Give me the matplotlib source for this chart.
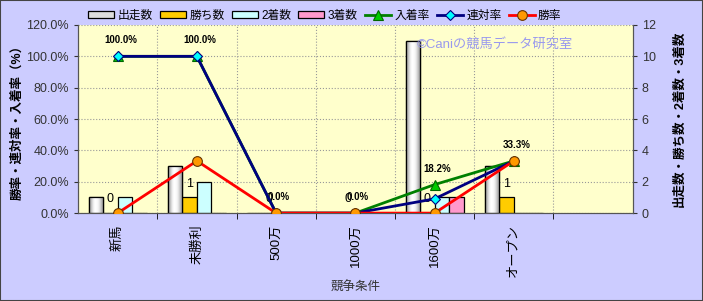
import matplotlib
matplotlib.use('Agg')
import matplotlib.pyplot as plt
import numpy as np
from matplotlib.patches import Rectangle
from matplotlib.ticker import FuncFormatter, MultipleLocator

plt.rcParams['font.family'] = ['Liberation Sans', 'Noto Sans CJK JP', 'DejaVu Sans']

categories = ['新馬', '未勝利', '500万', '1000万', '1600万', 'オープン', '']
starts = [1, 3, 0, 0, 11, 3, None]
wins = [0, 1, 0, 0, 0, 1, None]
seconds = [1, 2, 0, 0, 1, 0, None]
thirds = [0, 0, 0, 0, 1, 0, None]
win_rate = [0.0, 33.3, 0.0, 0.0, 0.0, 33.3]
rentai_rate = [100.0, 100.0, 0.0, 0.0, 9.1, 33.3]
place_rate = [100.0, 100.0, 0.0, 0.0, 18.2, 33.3]

bg = '#CCCCFF'
plot_bg = '#FFFFCC'

fig = plt.figure(figsize=(7.03, 3.01), dpi=100, facecolor=bg)
fig.patches.append(Rectangle((0, 0), 1, 1, transform=fig.transFigure,
                             fill=False, edgecolor='#444444', linewidth=1.5))
ax = fig.add_axes([0.111, 0.292, 0.789, 0.625])
ax.set_facecolor(plot_bg)
ax2 = ax.twinx()

x = np.arange(len(categories))
w = 0.183
bar_series = [(starts, '#DDDDDD', '出走数'), (wins, '#FFCC00', '勝ち数'),
              (seconds, '#CCFFFF', '2着数'), (thirds, '#FF99CC', '3着数')]
handles = []
for k, (vals, col, name) in enumerate(bar_series):
    v = np.array([np.nan if a is None else a for a in vals], dtype=float)
    bars = ax.bar(x + (k - 1.5) * w, v, w, color=col, edgecolor='black',
                  linewidth=0.9, label=name, zorder=2)
    handles.append(bars)
    if k == 0:
        # cylinder-ish shading for the start-count bars
        grad = np.array([[0.62, 0.85, 1.0, 1.0, 0.95, 0.8, 0.6]])
        for b in bars:
            h = b.get_height()
            if not h or np.isnan(h):
                continue
            im = ax.imshow(grad, cmap='gray', vmin=0, vmax=1, aspect='auto',
                           interpolation='bicubic',
                           extent=[b.get_x(), b.get_x() + b.get_width(), 0, h],
                           zorder=2.1)
            im.set_clip_path(b)
            ax.add_patch(Rectangle((b.get_x(), 0), b.get_width(), h, fill=False,
                                   edgecolor='black', linewidth=0.9, zorder=2.2))
    if k == 1:
        for xi, vi in zip(x + (k - 1.5) * w, vals):
            if vi is None:
                continue
            ax.annotate(str(vi), (xi, vi), xytext=(0, 10), textcoords='offset points',
                        ha='center', va='center', fontsize=9, zorder=5)

xl = x[:len(win_rate)]
line_specs = [(place_rate, '#008000', '^', '#00CC00', '#006600', 7, '入着率'),
              (rentai_rate, '#000080', 'D', '#00FFFF', '#000080', 5, '連対率'),
              (win_rate, '#FF0000', 'o', '#FF9900', '#663300', 7, '勝率')]
for vals, col, mk, fc, ec, ms, name in line_specs:
    ln, = ax2.plot(xl, vals, color=col, linewidth=2, marker=mk, markersize=ms,
                   markerfacecolor=fc, markeredgecolor=ec, markeredgewidth=0.8,
                   label=name, zorder=4)
    handles.append(ln)
for xi, vi in zip(xl, place_rate):
    ax2.annotate(f'{vi:.1f}%', (xi, vi), xytext=(2, 11.5), textcoords='offset points',
                 ha='center', va='center', fontsize=7, fontweight='bold')

ax.set_xlim(-0.5, len(categories) - 0.5)
ax.set_ylim(0, 12)
ax2.set_ylim(0, 120)
ax.yaxis.set_major_locator(MultipleLocator(2))
ax2.yaxis.set_major_locator(MultipleLocator(20))
ax2.yaxis.set_major_formatter(FuncFormatter(lambda v, p: f'{v:.1f}%'))

# counts on the right, rates on the left
ax.yaxis.tick_right()
ax.yaxis.set_label_position('right')
ax2.yaxis.tick_left()
ax2.yaxis.set_label_position('left')

ax.set_xticks(x)
ax.set_xticklabels(categories, rotation=90, fontsize=9.5)
ax.set_xticks(x[:-1] + 0.5, minor=True)
ax.tick_params(axis='x', which='major', length=0, pad=8)
ax.tick_params(axis='x', which='minor', length=4)
ax.grid(True, which='minor', axis='x', color='#999999', linestyle=':', linewidth=0.8)
ax.grid(True, which='major', axis='y', color='#999999', linestyle=':', linewidth=0.8)
ax.set_axisbelow(True)
ax.tick_params(axis='y', labelsize=9, colors='#333333', length=3)
ax2.tick_params(axis='y', labelsize=9, colors='#333333', length=3)
for a in (ax, ax2):
    for s in a.spines.values():
        s.set_color('#555555')
    a.spines['top'].set_visible(False)

ax.set_xlabel('競争条件', fontsize=9, color='#333333', labelpad=3)
ax.set_ylabel('出走数・勝ち数・2着数・3着数', fontsize=9, fontweight='bold',
              rotation=90, labelpad=13)
ax2.set_ylabel('勝率・連対率・入着率（%）', fontsize=9, fontweight='bold', labelpad=2)

fig.text(0.593, 0.853, '©Caniの競馬データ研究室', fontsize=9.5, color='#9999EE',
         ha='left', va='center')

fig.legend(handles=handles, labels=[h.get_label() for h in handles], ncol=7,
           loc='center', bbox_to_anchor=(0.462, 0.948), frameon=False, fontsize=8.5,
           handlelength=2.2, handleheight=0.6, columnspacing=0.6, handletextpad=0.3,
           borderpad=0)

fig.savefig('out.png', dpi=100, facecolor=bg)
